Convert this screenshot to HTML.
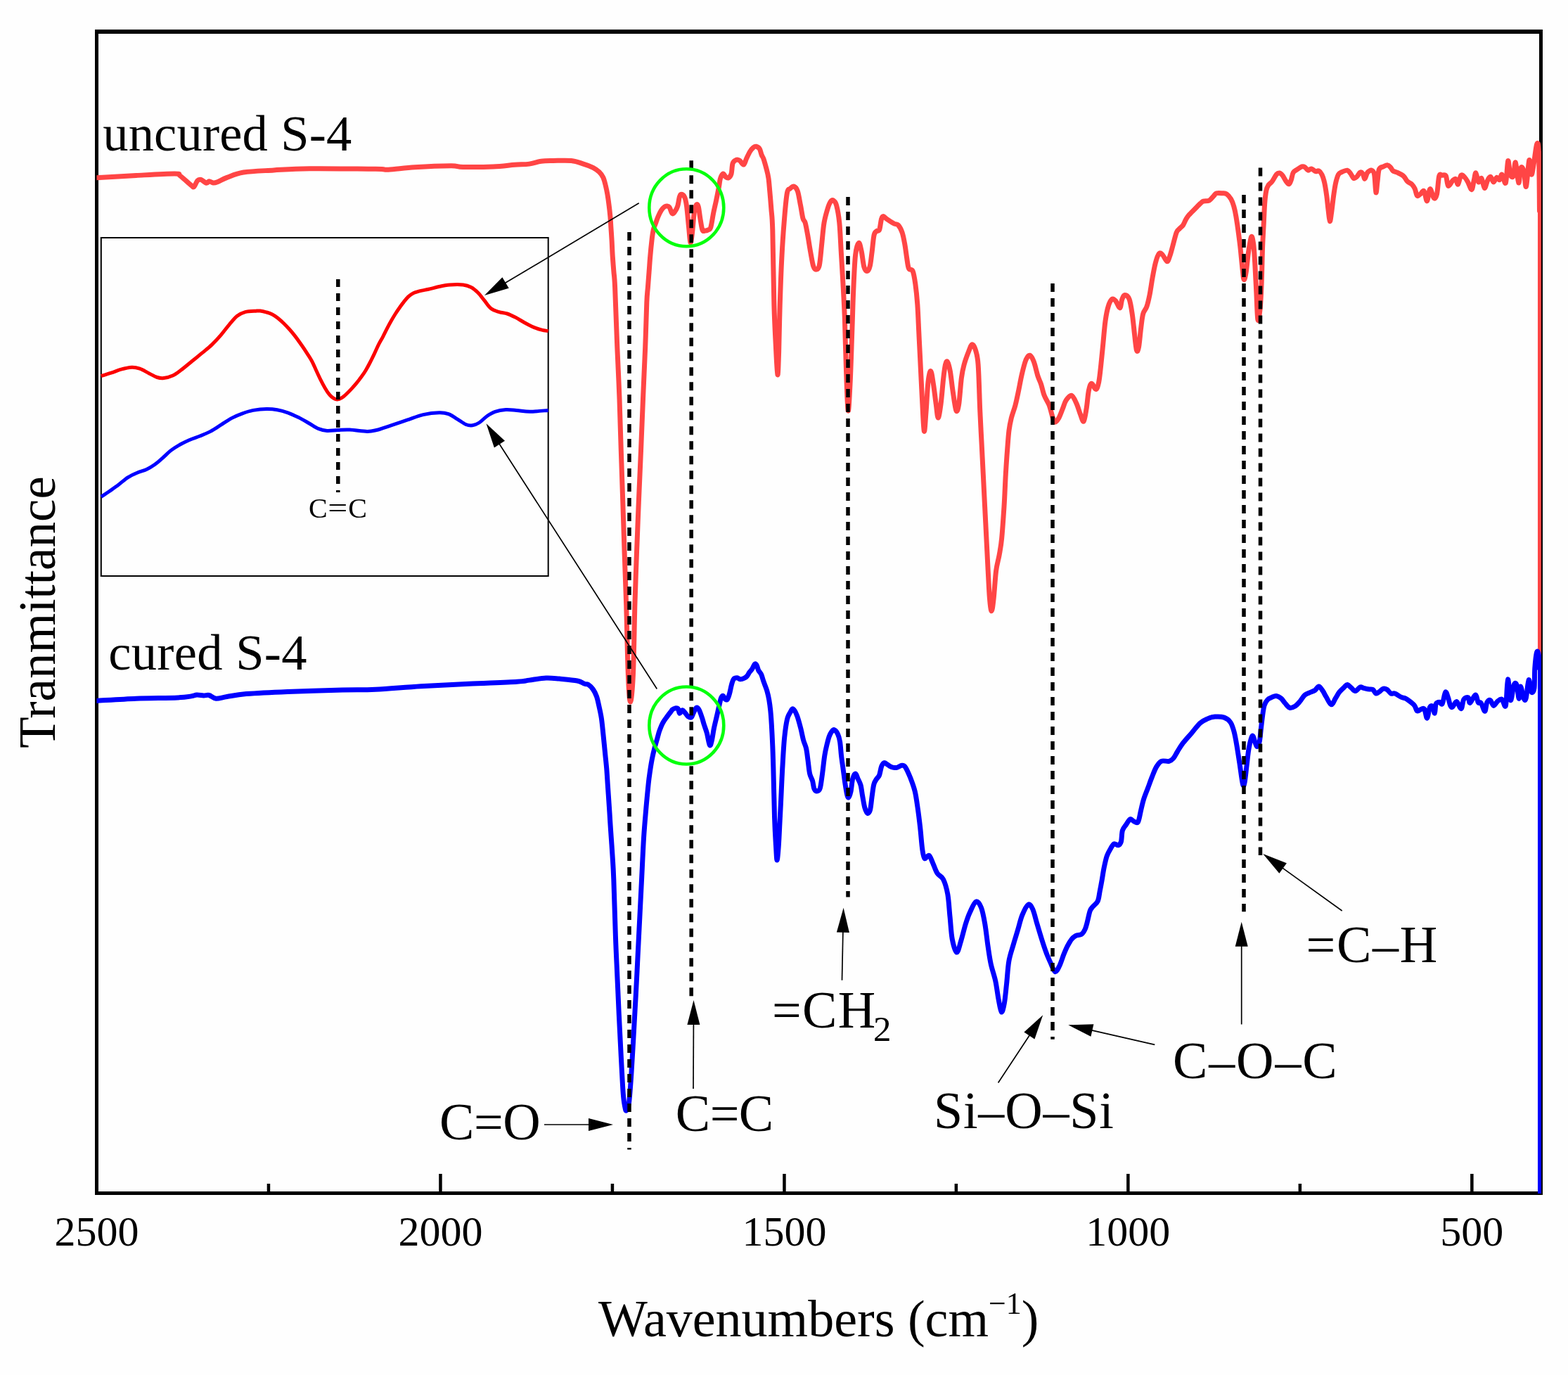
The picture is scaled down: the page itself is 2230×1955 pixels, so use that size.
<!DOCTYPE html>
<html><head><meta charset="utf-8"><title>FTIR spectra</title>
<style>
html,body{margin:0;padding:0;background:#fefefe;overflow:hidden;}
svg{display:block;}
text{font-family:"Liberation Serif","Times New Roman",serif;fill:#000;}
</style></head><body>
<svg width="2230" height="1955" viewBox="0 0 2230 1955">
<rect x="0" y="0" width="2230" height="1955" fill="#fefefe"/>

<rect x="135" y="42" width="2059" height="6" fill="#000"/>
<rect x="135" y="1694" width="2059" height="5" fill="#000"/>
<rect x="135" y="42" width="5" height="1657" fill="#000"/>
<rect x="2189" y="42" width="5" height="1657" fill="#000"/>
<rect x="624.2" y="1669" width="4.5" height="27" fill="#000"/><rect x="1113.2" y="1669" width="4.5" height="27" fill="#000"/><rect x="1602.1" y="1669" width="4.5" height="27" fill="#000"/><rect x="2091.1" y="1669" width="4.5" height="27" fill="#000"/><rect x="379.7" y="1683" width="4.5" height="13" fill="#000"/><rect x="868.7" y="1683" width="4.5" height="13" fill="#000"/><rect x="1357.6" y="1683" width="4.5" height="13" fill="#000"/><rect x="1846.6" y="1683" width="4.5" height="13" fill="#000"/>
<text x="137.5" y="1771" font-size="60" text-anchor="middle">2500</text>
<text x="626.5" y="1771" font-size="60" text-anchor="middle">2000</text>
<text x="1115.4" y="1771" font-size="60" text-anchor="middle">1500</text>
<text x="1604.3" y="1771" font-size="60" text-anchor="middle">1000</text>
<text x="2093.3" y="1771" font-size="60" text-anchor="middle">500</text>
<text x="851" y="1899.6" font-size="74">Wavenumbers (cm<tspan font-size="44" dy="-32">−1</tspan><tspan dy="32">)</tspan></text>
<text transform="translate(78,870.5) rotate(-90)" font-size="73" text-anchor="middle">Tranmittance</text>
<text x="146.3" y="214" font-size="72.5" textLength="354" lengthAdjust="spacing">uncured S-4</text>
<text x="154.3" y="951.8" font-size="72.5" textLength="282.2" lengthAdjust="spacing">cured S-4</text>
<defs><clipPath id="pc"><rect x="137.5" y="40" width="2054.5" height="1657"/></clipPath></defs><g clip-path="url(#pc)">
<path d="M137,252.8 C146.4,252.2 175.1,250.5 193.7,249.5 C212.3,248.5 238.1,246.9 248.5,247 C258.9,247.1 252.4,247.2 256.3,250 C260.2,252.8 268.7,261 272,263.6 C275.3,266.2 274.4,266.7 275.9,265.6 C277.4,264.5 279.2,258.5 280.8,256.8 C282.4,255.1 283.6,254.8 285.7,255.4 C287.8,256 291.6,259.9 293.5,260.3 C295.4,260.7 295.8,257.8 297.4,257.7 C299,257.6 301.3,259.8 303.3,260 C305.3,260.2 305.9,260 309.2,258.7 C312.5,257.4 316.7,254.7 322.9,252.4 C329.1,250.1 335.3,246.7 346.4,245 C357.5,243.3 373.8,242.9 389.4,242 C405,241.1 416.2,240 440.3,239.7 C464.4,239.4 515.5,240.1 534.2,240.3 C552.9,240.6 543,241.6 552.3,241.2 C561.6,240.8 575.2,238.6 590,237.7 C604.8,236.8 629.9,235.8 641.3,235.7 C652.7,235.6 648.4,237.2 658.4,237.4 C668.4,237.6 688.9,237.5 701.2,237 C713.5,236.5 723.4,235 732,234.3 C740.6,233.7 746.3,233.9 752.6,233.1 C758.9,232.2 764,230 769.7,229.2 C775.4,228.4 779.7,228.6 786.8,228.5 C793.9,228.4 805.4,227.7 812.5,228.5 C819.6,229.3 824.6,231.5 829.7,233.1 C834.9,234.7 839.6,236.4 843.4,238.3 C847.1,240.2 849.8,242.2 852.2,244.5 C854.6,246.8 856.3,249.1 857.8,252.3 C859.3,255.5 860.2,259.4 861.2,263.5 C862.2,267.6 863.2,272.1 864,276.9 C864.8,281.7 865.6,287.3 866.2,292.5 C866.9,297.7 867.4,302.7 867.9,308.1 C868.4,313.5 868.6,319.3 869,324.9 C869.4,330.5 869.7,335.1 870.1,341.6 C870.5,348.1 870.7,356.5 871.2,363.9 C871.7,371.3 872.3,378.8 872.9,386.2 C873.5,393.6 873.8,390.7 874.6,408.6 C875.4,426.5 876.7,467.2 877.8,493.6 C878.9,520 880.1,542.7 881,567.2 C881.9,591.8 882.5,616.4 883.3,640.9 C884.1,665.4 885,690 885.8,714.5 C886.6,739 887.4,763.9 888.2,788.1 C889,812.3 889.8,831.1 890.7,859.8 C891.6,888.4 892.4,937 893.4,960 C894.4,983 895.3,998 896.5,998 C897.7,998 899.3,983 900.4,960 C901.5,937 902.1,888.4 902.9,859.8 C903.7,831.1 904.5,812.3 905.4,788.1 C906.3,763.9 907.3,739 908.3,714.5 C909.3,690 910.5,665.4 911.5,640.9 C912.5,616.4 913.5,591.8 914.5,567.2 C915.5,542.7 916.8,516.5 917.7,493.6 C918.6,470.7 919.2,444.2 919.8,430 C920.4,415.8 920.8,415.9 921.4,408.6 C922,401.3 922.5,393.6 923.1,386.2 C923.7,378.8 924.1,371.3 924.8,363.9 C925.4,356.5 926.3,347.7 927,341.6 C927.7,335.5 928.3,331.2 929.2,327.1 C930.1,323 931.5,320.3 932.6,317.1 C933.7,313.9 934.6,311.1 935.9,308.1 C937.2,305.1 938.9,301.6 940.4,299.2 C941.9,296.8 943.6,295 945,294 C946.4,293 947.3,292.9 948.5,293 C949.7,293.1 950.9,293 952.1,294.8 C953.4,296.6 954.7,302.6 956,303.6 C957.3,304.6 958.6,302.5 959.9,300.7 C961.2,298.9 962.7,296.2 963.8,292.8 C964.9,289.4 965.5,282.9 966.3,280.1 C967.1,277.3 967.5,276.2 968.7,276.2 C969.9,276.2 972.3,277.3 973.6,280.1 C974.9,282.9 975.5,285.8 976.5,292.8 C977.5,299.8 978.6,313.6 979.5,322.2 C980.4,330.8 981.1,343.1 981.9,344.7 C982.7,346.3 983.5,339 984.4,332 C985.3,325 986.3,309.4 987.3,302.6 C988.3,295.8 989.2,292.9 990.2,291.4 C991.2,289.9 992.2,290.3 993.2,293.8 C994.2,297.3 995.1,306.8 996.1,312.4 C997.1,317.9 997.9,324.5 999,327.1 C1000.1,329.7 1001.7,328.1 1003,328.1 C1004.3,328.1 1005.6,327.9 1006.9,327.1 C1008.2,326.3 1009.5,327.3 1010.8,323.2 C1012.1,319.1 1013.4,309 1014.7,302.6 C1016,296.2 1017.3,291.2 1018.6,285 C1019.9,278.8 1021.5,270.6 1022.5,265.4 C1023.5,260.2 1023.5,256.8 1024.5,253.7 C1025.5,250.6 1027.1,247.2 1028.4,246.9 C1029.7,246.6 1031,250.8 1032.3,251.8 C1033.6,252.8 1034.9,253.5 1036.2,252.7 C1037.5,251.9 1039.1,250.3 1040.1,246.9 C1041.1,243.5 1040.9,235.5 1042.1,232.2 C1043.2,228.9 1045.4,228 1047,227.3 C1048.6,226.7 1050.1,227.2 1051.9,228.3 C1053.7,229.4 1056.1,234.6 1057.7,234.1 C1059.3,233.6 1060.2,228.4 1061.7,225.3 C1063.2,222.2 1065,218.1 1066.6,215.5 C1068.2,212.9 1069.9,210.9 1071.4,209.7 C1072.9,208.5 1073.9,207.9 1075.4,208.2 C1076.9,208.5 1079,209.6 1080.3,211.6 C1081.6,213.6 1082.2,217.9 1083.2,220.4 C1084.2,222.9 1085,223 1086.1,226.3 C1087.2,229.6 1088.8,235.4 1090,240 C1091.2,244.6 1092.2,248.1 1093,253.7 C1093.8,259.2 1094.2,266 1094.9,273.3 C1095.6,280.6 1096.2,288.7 1096.9,297.7 C1097.6,306.7 1098.1,304.4 1098.8,327.1 C1099.5,349.8 1100.1,406.5 1100.9,434.1 C1101.7,461.7 1102.6,476.2 1103.4,492.7 C1104.2,509.1 1105.2,531.4 1105.9,532.8 C1106.6,534.2 1107,517.5 1107.6,501 C1108.1,484.6 1108.5,456.4 1109.2,434.1 C1109.9,411.8 1110.8,386.7 1111.8,367.2 C1112.8,347.7 1113.8,332.4 1115.1,317 C1116.3,301.6 1117.9,283.2 1119.3,275.1 C1120.7,267 1121.8,270.1 1123.5,268.4 C1125.2,266.7 1127.5,264.5 1129.3,265.1 C1131.1,265.7 1132.9,267.4 1134.4,271.8 C1135.9,276.2 1137.2,285.4 1138.5,291.8 C1139.8,298.2 1140.8,306.1 1141.9,310.3 C1143,314.5 1144.1,313 1145.2,316.9 C1146.3,320.8 1147.3,326.7 1148.6,333.7 C1149.9,340.7 1151.4,351.3 1152.8,358.8 C1154.2,366.3 1155.5,374.8 1156.9,378.9 C1158.3,382.9 1159.7,383.4 1161.1,383.1 C1162.5,382.8 1164,383.2 1165.3,377.2 C1166.6,371.2 1167.6,357.2 1168.7,347.1 C1169.8,337.1 1170.6,325.3 1172,316.9 C1173.4,308.5 1175.5,301.9 1177,296.9 C1178.5,291.9 1179.8,288.8 1181.2,286.8 C1182.6,284.8 1184,284.3 1185.4,285.1 C1186.8,285.9 1188.2,286.5 1189.6,291.8 C1191,297.1 1192.7,305.7 1193.8,316.9 C1194.9,328.1 1195.5,344.9 1196.3,358.8 C1197.1,372.8 1198,385.3 1198.8,400.6 C1199.6,415.9 1200.5,430.9 1201.3,450.8 C1202,470.7 1202.5,497.9 1203.3,520 C1204.1,542.1 1205.1,579.2 1206.1,583.6 C1207,588 1208,565.4 1209,546.6 C1210,527.8 1211,492.8 1211.8,470.7 C1212.6,448.6 1212.9,431.8 1213.7,413.8 C1214.5,395.8 1215.3,374 1216.6,362.6 C1217.9,351.2 1219.9,346.4 1221.3,345.5 C1222.7,344.6 1223.8,351.2 1225.1,356.9 C1226.4,362.6 1227.5,374.9 1228.9,379.7 C1230.3,384.4 1232.2,385.7 1233.6,385.4 C1235,385.1 1236.3,382.6 1237.4,377.8 C1238.5,373.1 1239.3,364.2 1240.3,356.9 C1241.2,349.6 1242,338.8 1243.1,334.1 C1244.2,329.4 1245.6,329.8 1246.9,328.5 C1248.2,327.2 1249.6,329.5 1250.7,326.6 C1251.8,323.8 1252.6,314.6 1253.6,311.4 C1254.5,308.2 1255.2,307.6 1256.4,307.6 C1257.7,307.6 1258.6,309.7 1261.1,311.4 C1263.6,313.1 1268.9,316.6 1271.6,318 C1274.3,319.4 1275.4,317.8 1277.3,319.9 C1279.2,322 1281.4,325.8 1283,330.4 C1284.6,335 1285.7,341.4 1286.8,347.4 C1287.9,353.4 1288.7,360.7 1289.6,366.4 C1290.5,372.1 1291,378.4 1292.4,381.6 C1293.8,384.8 1296.5,381.6 1298.1,385.4 C1299.7,389.2 1300.8,396.4 1301.9,404.3 C1303,412.2 1304,421.7 1304.8,432.8 C1305.6,443.9 1306.1,458.1 1306.7,470.7 C1307.3,483.3 1307.8,492.9 1308.6,508.7 C1309.4,524.5 1310.5,548.2 1311.4,565.6 C1312.4,583 1313.3,609.8 1314.3,613 C1315.2,616.2 1316.1,596.3 1317.1,584.6 C1318,572.9 1318.9,552.3 1320,542.8 C1321.1,533.3 1322.5,527.1 1323.7,527.7 C1325,528.3 1326.2,538.7 1327.5,546.6 C1328.8,554.5 1330.2,567.2 1331.3,575.1 C1332.4,583 1333.1,594.1 1334.2,594.1 C1335.3,594.1 1336.7,584.6 1338,575.1 C1339.3,565.6 1340.7,546.7 1341.8,537.2 C1342.9,527.7 1343.6,522 1344.6,518.2 C1345.5,514.4 1346.4,512.8 1347.5,514.4 C1348.6,516 1350,520.8 1351.3,527.7 C1352.6,534.7 1353.7,546.8 1355.1,556.1 C1356.5,565.4 1358.4,580.4 1359.8,583.6 C1361.2,586.8 1362.3,582.8 1363.6,575.1 C1364.9,567.4 1366.1,546.7 1367.4,537.2 C1368.7,527.7 1369.5,524.5 1371.2,518.2 C1372.9,511.9 1375.9,503.9 1377.8,499.2 C1379.7,494.4 1381,490 1382.6,489.7 C1384.2,489.4 1385.9,492.6 1387.3,497.3 C1388.7,502.1 1390,503.9 1391.1,518.2 C1392.2,532.5 1392.9,564.5 1393.7,582.9 C1394.5,601.3 1395.2,613.5 1396,628.7 C1396.8,644 1397.5,659.1 1398.3,674.4 C1399.1,689.6 1399.8,705 1400.6,720.2 C1401.4,735.5 1402.1,750.6 1402.9,765.9 C1403.7,781.1 1404.5,797.6 1405.2,811.7 C1406,825.8 1406.6,841 1407.4,850.5 C1408.2,860 1409.2,868.8 1410.2,868.8 C1411.2,868.8 1412.1,860 1413.2,850.5 C1414.3,841 1415.3,822 1416.6,811.7 C1417.9,801.4 1419.9,796.4 1421.2,788.8 C1422.5,781.2 1423.5,777.3 1424.6,765.9 C1425.7,754.5 1427,735.5 1428,720.2 C1429,705 1429.5,687.8 1430.3,674.4 C1431.1,661 1431.8,650.4 1432.6,640.1 C1433.4,629.8 1434,620.3 1434.9,612.7 C1435.9,605.1 1436.8,600.5 1438.3,594.4 C1439.8,588.3 1442.3,582.6 1444,576.1 C1445.7,569.6 1447.1,562.8 1448.6,555.5 C1450.1,548.2 1451.5,539.9 1453.2,532.6 C1454.9,525.4 1457,516.6 1458.9,512 C1460.8,507.4 1462.7,504.8 1464.6,505.2 C1466.5,505.6 1468.4,509.3 1470.3,514.3 C1472.2,519.2 1474.4,529.6 1476.1,534.9 C1477.8,540.2 1479.1,541.7 1480.6,546.3 C1482.1,550.9 1483.3,557.3 1485.2,562.3 C1487.1,567.3 1490.2,571.1 1492.1,576.1 C1494,581.1 1495.4,588.1 1496.7,592.1 C1498,596.1 1498.6,599.7 1500.1,600.1 C1501.6,600.5 1503.9,597.6 1505.8,594.4 C1507.7,591.1 1509.8,584.8 1511.5,580.6 C1513.2,576.4 1514,572.2 1516.1,569.2 C1518.2,566.2 1521.6,561.5 1524.1,562.3 C1526.6,563.1 1528.9,569.2 1531,573.8 C1533.1,578.4 1535,585.6 1536.7,589.8 C1538.4,594 1539.9,600.5 1541.3,598.9 C1542.7,597.3 1544,587.6 1545.2,580.4 C1546.4,573.2 1547.1,561.6 1548.3,555.7 C1549.5,549.9 1550.7,545.6 1552.4,545.3 C1554.1,544.9 1556.9,553.9 1558.6,553.6 C1560.3,553.3 1561.5,549.1 1562.7,543.3 C1563.9,537.4 1564.8,527.8 1565.8,518.5 C1566.8,509.2 1567.9,497.8 1568.9,487.5 C1569.9,477.2 1570.8,465.1 1572,456.5 C1573.2,447.9 1574.5,441.1 1576.1,435.9 C1577.6,430.7 1579.6,426.9 1581.3,425.5 C1583,424.1 1584.6,425.5 1586.5,427.6 C1588.4,429.7 1591.2,438.2 1592.7,437.9 C1594.2,437.5 1594.6,428.6 1595.8,425.5 C1597,422.4 1598.2,419.4 1599.9,419.4 C1601.6,419.4 1604.4,421 1606.1,425.5 C1607.8,430 1609,438.3 1610.2,446.2 C1611.4,454.1 1612.3,464.4 1613.3,473 C1614.3,481.6 1615.4,494.4 1616.4,497.8 C1617.4,501.2 1618.5,498.9 1619.5,493.7 C1620.5,488.5 1621.6,474.8 1622.6,466.9 C1623.6,459 1624.3,451.4 1625.7,446.2 C1627.1,441 1629.4,440.4 1630.9,435.9 C1632.5,431.4 1633.6,426.3 1635,419.4 C1636.4,412.5 1637.7,402.2 1639.1,394.6 C1640.5,387 1641.8,379.6 1643.3,373.9 C1644.8,368.2 1646.7,362.4 1648.4,360.5 C1650.1,358.6 1651.7,360.7 1653.6,362.6 C1655.5,364.5 1658.1,371.6 1659.8,371.8 C1661.5,372 1662.5,367.4 1663.9,363.6 C1665.3,359.8 1666.5,354.6 1668,349.1 C1669.5,343.6 1671.7,334.4 1673.2,330.5 C1674.8,326.6 1675.8,327.1 1677.3,325.4 C1678.8,323.7 1681,322.4 1682.5,320.2 C1684,318 1685.2,314.4 1686.6,312 C1688,309.6 1688.7,308.2 1690.8,305.8 C1692.9,303.4 1696.2,300.3 1699,297.5 C1701.8,294.7 1705.2,291.1 1707.3,289.2 C1709.4,287.3 1709.3,286.8 1711.4,286.1 C1713.5,285.4 1717.3,286.3 1719.7,285.1 C1722.1,283.9 1724.2,280.6 1725.9,278.9 C1727.6,277.2 1727.9,275.5 1730,274.8 C1732.1,274.1 1735.9,274.6 1738.3,274.8 C1740.7,275 1742.4,274.4 1744.5,275.8 C1746.6,277.2 1749,280.1 1750.7,283 C1752.4,285.9 1753.6,289.3 1754.8,293.4 C1756,297.5 1756.9,301.9 1757.9,307.8 C1758.9,313.7 1760,320.9 1761,328.5 C1762,336.1 1763.1,344 1764.1,353.3 C1765.1,362.6 1766.3,376.8 1767.2,384.2 C1768.1,391.6 1768.4,397.3 1769.2,397.7 C1770,398.1 1771.3,392.7 1772.3,386.3 C1773.3,379.9 1774.2,367.8 1775.4,359.5 C1776.6,351.2 1778.4,338.8 1779.6,336.7 C1780.8,334.6 1781.8,340.9 1782.7,347.1 C1783.6,353.3 1784,362.5 1784.7,373.9 C1785.4,385.2 1786.1,401.8 1786.8,415.2 C1787.5,428.6 1788,450.4 1788.9,454.5 C1789.8,458.6 1791.1,448.5 1792,440 C1792.9,431.5 1793.5,418.3 1794.1,403.4 C1794.7,388.5 1795.1,364.5 1795.6,350.7 C1796.1,336.9 1796.6,330.7 1797.1,320.6 C1797.6,310.6 1798,298.7 1798.6,290.4 C1799.2,282.1 1800,275.3 1800.9,270.8 C1801.8,266.3 1802.5,265.4 1803.9,263.3 C1805.3,261.2 1807.3,260.5 1809.2,258 C1811.1,255.5 1813.5,250.2 1815.2,248.2 C1817,246.2 1818.2,245.8 1819.7,246 C1821.2,246.2 1822.7,247.8 1824.2,249.7 C1825.7,251.6 1827.3,255.3 1828.8,257.3 C1830.3,259.3 1832,262.1 1833.3,261.8 C1834.5,261.6 1835.3,258.6 1836.3,255.8 C1837.3,253 1837.8,247.7 1839.3,245.2 C1840.8,242.7 1843.3,242.1 1845.3,240.7 C1847.3,239.3 1849.6,237.4 1851.4,236.9 C1853.2,236.4 1854.4,236.8 1855.9,237.7 C1857.4,238.6 1858.9,241.8 1860.4,242.2 C1861.9,242.6 1863.1,239.7 1864.9,239.9 C1866.7,240.2 1869.2,243.2 1871,243.7 C1872.8,244.2 1874,242.2 1875.5,242.9 C1877,243.7 1878.6,245.3 1880,248.2 C1881.4,251.1 1882.7,255.3 1883.8,260.3 C1884.9,265.3 1885.9,272.1 1886.8,278.4 C1887.7,284.7 1888.2,292 1889,298 C1889.8,304 1890.5,313.8 1891.3,314.5 C1892.1,315.2 1892.7,308.5 1893.6,302.5 C1894.5,296.5 1895.6,285.4 1896.6,278.4 C1897.6,271.4 1898.5,265.3 1899.6,260.3 C1900.7,255.3 1901.9,250.8 1903.4,248.2 C1904.9,245.6 1906.5,245.5 1908.6,244.5 C1910.7,243.5 1914.2,241.8 1916.2,242.2 C1918.2,242.6 1919.2,244.8 1920.7,246.7 C1922.2,248.6 1923.7,252.8 1925.2,253.5 C1926.7,254.2 1928.2,252.6 1929.7,251.2 C1931.2,249.8 1932.9,245.9 1934.3,245.2 C1935.7,244.4 1936.9,245.2 1938,246.7 C1939.1,248.2 1940,254.4 1941.1,254.2 C1942.2,253.9 1943.2,247.2 1944.8,245.2 C1946.4,243.2 1949.2,241.7 1950.8,242.2 C1952.4,242.7 1953.6,242.9 1954.6,248.2 C1955.6,253.5 1956.2,272.3 1956.9,273.8 C1957.7,275.3 1958.3,262.8 1959.1,257.3 C1959.8,251.8 1960,244.1 1961.4,240.7 C1962.8,237.3 1965.4,237.9 1967.4,236.9 C1969.4,235.9 1971.6,234.4 1973.4,234.7 C1975.2,234.9 1976.7,237 1978,238.4 C1979.3,239.8 1979.5,241.8 1981,242.9 C1982.5,244 1984.5,244 1987,245.2 C1989.5,246.4 1993.7,248.2 1996.1,250.3 C1998.5,252.4 1999.5,255.8 2001.5,257.8 C2003.5,259.8 2006.2,260.3 2008,262.1 C2009.8,263.9 2011,265.9 2012.3,268.6 C2013.5,271.3 2014.2,277.1 2015.5,278.3 C2016.8,279.6 2018.2,277.2 2019.8,276.1 C2021.4,275 2023.6,270.2 2025.2,271.8 C2026.8,273.4 2028.1,286.3 2029.5,285.8 C2030.9,285.3 2032.2,269.3 2033.8,268.6 C2035.4,267.9 2037.6,280.2 2039.2,281.5 C2040.8,282.8 2042.2,281.3 2043.5,276.1 C2044.8,270.9 2045.5,254.8 2046.7,250.3 C2048,245.8 2049.4,249.2 2051,249.2 C2052.6,249.2 2055,247.8 2056.4,250.3 C2057.8,252.8 2058,263.2 2059.6,264.3 C2061.2,265.4 2064.3,258.3 2066.1,256.7 C2067.9,255.1 2069.2,253.7 2070.4,254.6 C2071.7,255.5 2072.3,263 2073.6,262.1 C2074.8,261.2 2076.3,250.8 2077.9,249.2 C2079.5,247.6 2081.7,250.8 2083.3,252.4 C2084.9,254 2086,256 2087.6,258.9 C2089.2,261.8 2091.6,270 2093,269.6 C2094.4,269.2 2095.2,260.6 2096.2,256.7 C2097.2,252.8 2097.8,245.5 2098.9,245.9 C2100,246.3 2101.3,257.6 2102.7,258.9 C2104,260.2 2105.6,252.1 2107,253.5 C2108.4,254.9 2109.9,267 2111.3,267.5 C2112.7,268 2114.2,259.4 2115.6,256.7 C2117,254 2118.5,250.9 2119.9,251.3 C2121.3,251.7 2122.8,258.7 2124.2,258.9 C2125.6,259.1 2127.1,252.9 2128.5,252.4 C2129.9,251.9 2131.5,256.4 2132.8,255.7 C2134.1,255 2134.7,247.4 2136.1,248.1 C2137.5,248.8 2140,263.2 2141.4,260 C2142.8,256.8 2143.6,230.7 2144.7,228.7 C2145.8,226.7 2146.7,244.5 2147.9,248.1 C2149.2,251.7 2150.9,253.2 2152.2,250.3 C2153.4,247.4 2154.2,229.3 2155.4,230.9 C2156.7,232.5 2158.4,258.8 2159.7,260 C2161,261.2 2161.7,241.1 2163,238.4 C2164.3,235.7 2166.1,239.3 2167.3,243.8 C2168.6,248.3 2169.2,268 2170.5,265.3 C2171.8,262.6 2173.6,230.6 2174.8,227.7 C2176.1,224.8 2176.9,247.2 2178,248.1 C2179.1,249 2180,240.2 2181.3,233 C2182.6,225.8 2184.4,207.8 2185.6,205.1 C2186.8,202.4 2187.8,201.1 2188.4,216.9 C2189.1,232.7 2189.3,286.1 2189.5,300" fill="none" stroke="#ff4545" stroke-width="7" stroke-linejoin="round" stroke-linecap="round"/>
<rect x="2187" y="215" width="5" height="1400" fill="#ff4545"/>
<path d="M137,996.4 C146.4,995.9 174.5,994 193.7,993.2 C212.9,992.5 239.3,992.5 252.4,991.9 C265.4,991.3 267.4,990.5 272,989.9 C276.6,989.2 276.9,988.2 279.8,988 C282.7,987.8 286.7,988.8 289.6,988.9 C292.5,989 294.5,987.8 297.4,988.5 C300.3,989.2 302.9,992.9 307.2,993.2 C311.4,993.5 315.7,991.6 322.9,990.5 C330.1,989.4 335.9,987.8 350.3,986.6 C364.7,985.4 386.2,984.3 409,983.4 C431.8,982.5 466.4,981.6 487.3,981.1 C508.2,980.6 515.7,981.2 534.2,980.3 C552.7,979.4 576.4,977 598.5,975.7 C620.6,974.4 644.2,973.4 667,972.3 C689.8,971.2 721.2,970.1 735.5,969.2 C749.8,968.3 745.8,968 752.6,967.1 C759.5,966.2 769.5,964.3 776.6,964 C783.7,963.7 788,964.4 795.4,965.1 C802.8,965.8 815.1,966.8 821.1,968 C827.1,969.2 828.8,971.4 831.4,972.3 C834,973.2 834.7,972.1 836.7,973.4 C838.7,974.7 841.4,977.3 843.4,980.1 C845.4,982.9 847.1,986.3 848.5,990.2 C849.9,994.1 850.7,998.6 851.8,1003.6 C852.9,1008.6 854.2,1013.9 855.2,1020.3 C856.2,1026.7 856.9,1034.3 857.7,1042.1 C858.5,1049.9 859.4,1058.8 860.2,1067.2 C861,1075.6 862,1084 862.7,1092.4 C863.4,1100.8 863.8,1109.1 864.4,1117.5 C865,1125.9 865.5,1134.2 866.1,1142.6 C866.7,1151 867.2,1159.3 867.7,1167.7 C868.2,1176.1 868.8,1184.4 869.4,1192.8 C870,1201.2 870.5,1208.5 871.1,1218 C871.7,1227.5 872.1,1231.3 872.8,1250.1 C873.5,1268.9 874.6,1308.2 875.4,1331 C876.2,1353.8 877,1368.1 877.8,1386.7 C878.6,1405.3 879.4,1423.9 880.3,1442.5 C881.2,1461.1 882.1,1479.7 883.1,1498.3 C884.1,1516.9 885.3,1541.6 886.2,1554.1 C887.1,1566.5 887.8,1568.8 888.6,1573 C889.4,1577.2 889.8,1579.8 890.8,1579 C891.8,1578.2 893.3,1576.8 894.5,1568 C895.7,1559.2 896.8,1542.5 897.9,1526.2 C899,1509.9 900.1,1489 901.2,1470.4 C902.3,1451.8 903.3,1433.2 904.3,1414.6 C905.3,1396 906.2,1377.5 907.1,1358.9 C908,1340.3 909,1321.7 909.9,1303.1 C910.8,1284.5 911.8,1265.9 912.7,1247.3 C913.6,1228.7 914.5,1207.8 915.5,1191.5 C916.5,1175.2 917.7,1162.6 918.8,1149.7 C919.9,1136.8 921.3,1122.8 922.2,1114 C923.1,1105.2 923.7,1101.9 924.4,1097 C925.1,1092.1 925.6,1088.8 926.3,1084.8 C927,1080.8 927.7,1077.2 928.6,1073.2 C929.5,1069.2 930.7,1064.6 931.7,1060.7 C932.7,1056.8 933.8,1053.4 934.8,1050 C935.8,1046.6 936.5,1043.2 937.5,1040.2 C938.5,1037.2 939.6,1034.5 940.6,1032.1 C941.6,1029.7 942.5,1028 943.8,1025.9 C945.1,1023.8 946.6,1021.8 948.2,1019.6 C949.8,1017.4 952.2,1014.3 953.6,1012.5 C955,1010.7 955.3,1009.8 956.3,1008.9 C957.3,1008 958.5,1007.3 959.8,1007.1 C961.1,1006.9 963.2,1006.4 964.3,1007.6 C965.4,1008.8 965.5,1013.9 966.5,1014.3 C967.5,1014.7 969.1,1009.8 970.5,1009.8 C971.9,1009.8 973.6,1012.8 975,1014.3 C976.4,1015.8 977.2,1017.9 978.6,1018.8 C980,1019.7 982,1020.8 983.3,1019.9 C984.6,1019 985.1,1015.7 986.3,1013.4 C987.5,1011.1 989,1007 990.3,1006.3 C991.6,1005.6 992.9,1007 994.3,1009.4 C995.6,1011.8 997.2,1016.9 998.4,1020.4 C999.6,1023.9 1000.2,1026.8 1001.4,1030.5 C1002.6,1034.2 1004.1,1037.7 1005.4,1042.5 C1006.7,1047.3 1008.2,1057.9 1009.4,1059.6 C1010.6,1061.3 1011.4,1056.6 1012.4,1052.6 C1013.4,1048.6 1014.2,1041.2 1015.4,1035.5 C1016.6,1029.8 1018,1024.3 1019.4,1018.4 C1020.8,1012.5 1022.5,1004.6 1023.5,1000.3 C1024.5,995.9 1024.7,994.1 1025.5,992.3 C1026.3,990.5 1027.5,989 1028.5,989.3 C1029.5,989.6 1030.5,993.5 1031.5,994.3 C1032.5,995.1 1033.5,995.6 1034.5,994.3 C1035.5,993 1036.5,989.8 1037.5,986.3 C1038.5,982.8 1039.5,976.7 1040.5,973.2 C1041.5,969.7 1042.2,966.8 1043.6,965.2 C1044.9,963.6 1047.1,963.6 1048.6,963.7 C1050.1,963.8 1050.9,965.6 1052.6,965.7 C1054.3,965.8 1056.9,965 1058.6,964.2 C1060.3,963.4 1061.4,962.5 1062.6,961.1 C1063.8,959.8 1064.5,957.8 1065.7,956.1 C1066.9,954.4 1068.4,953.1 1069.7,951.1 C1071,949.1 1072.5,944.8 1073.7,944.1 C1074.9,943.4 1075.9,945.6 1076.7,947.1 C1077.5,948.6 1077.7,951.1 1078.7,953.1 C1079.7,955.1 1081.5,956.6 1082.7,959.1 C1083.9,961.6 1084.4,964.4 1085.7,968.2 C1087,972.1 1089.5,977.7 1090.8,982.2 C1092.1,986.7 1093,990.6 1093.8,995.3 C1094.6,1000 1095.2,1004.5 1095.8,1010.4 C1096.4,1016.3 1096.8,1022.1 1097.3,1030.5 C1097.8,1038.9 1098.4,1050.6 1098.8,1060.6 C1099.2,1070.6 1099.3,1073.5 1099.8,1090.7 C1100.3,1107.9 1101,1145.3 1101.6,1164 C1102.2,1182.7 1102.9,1192.8 1103.5,1202.6 C1104.1,1212.4 1104.5,1223.1 1105.1,1223.1 C1105.7,1223.1 1106.6,1212.4 1107.3,1202.6 C1108,1192.8 1108.6,1176.8 1109.3,1164 C1110,1151.2 1110.6,1138.3 1111.2,1125.5 C1111.8,1112.7 1112.3,1099.8 1113.1,1087 C1113.8,1074.2 1114.6,1059.2 1115.7,1048.5 C1116.8,1037.8 1118.1,1028.8 1119.5,1022.8 C1120.9,1016.8 1122.6,1015.1 1124,1012.6 C1125.4,1010.1 1126.4,1007.1 1128,1008 C1129.6,1008.9 1131.8,1013.1 1133.6,1017.7 C1135.4,1022.3 1137.3,1029.9 1138.8,1035.7 C1140.3,1041.5 1141.3,1047.7 1142.6,1052.4 C1143.9,1057.1 1145.4,1059.2 1146.5,1063.9 C1147.6,1068.6 1148.2,1074.6 1149,1080.6 C1149.8,1086.6 1150.5,1095 1151.6,1099.9 C1152.7,1104.8 1154.4,1106.5 1155.5,1110.1 C1156.6,1113.7 1156.8,1119.2 1158,1121.7 C1159.2,1124.2 1161.1,1125.1 1162.5,1124.9 C1163.9,1124.7 1165.2,1124.6 1166.4,1120.4 C1167.6,1116.2 1168.5,1107.6 1169.6,1099.9 C1170.7,1092.2 1171.7,1081.1 1172.8,1074.2 C1173.9,1067.3 1174.9,1063.3 1176,1058.8 C1177.1,1054.3 1178.1,1050.2 1179.2,1047.2 C1180.3,1044.2 1181.2,1042.4 1182.4,1040.8 C1183.6,1039.2 1184.8,1037.2 1186.3,1037.6 C1187.8,1038 1190,1040.5 1191.4,1043.4 C1192.8,1046.3 1193.8,1049.8 1194.6,1054.9 C1195.4,1060 1195.8,1067.8 1196.5,1074.2 C1197.2,1080.6 1198.2,1087 1199.1,1093.4 C1200,1099.8 1200.8,1106.9 1201.7,1112.7 C1202.6,1118.5 1203.5,1124.6 1204.3,1128.1 C1205.1,1131.6 1205.8,1134.3 1206.8,1133.9 C1207.8,1133.5 1209,1129.9 1210,1125.5 C1211,1121.1 1211.5,1111.9 1212.6,1107.6 C1213.7,1103.3 1215.1,1099.9 1216.4,1099.9 C1217.7,1099.9 1219,1104.8 1220.3,1107.6 C1221.6,1110.4 1223,1112.4 1224.1,1116.5 C1225.2,1120.6 1225.7,1126.7 1226.7,1132 C1227.7,1137.3 1228.7,1144.5 1229.9,1148.6 C1231.1,1152.6 1232.5,1155.9 1233.8,1156.3 C1235.1,1156.7 1236.5,1155.2 1237.6,1151.2 C1238.7,1147.2 1239.3,1138 1240.2,1132 C1241.1,1126 1241.7,1119.4 1242.8,1115.3 C1243.9,1111.2 1245.3,1109.8 1246.6,1107.6 C1247.9,1105.4 1249.3,1105.4 1250.5,1102.4 C1251.7,1099.4 1252.5,1092.6 1253.7,1089.6 C1254.9,1086.6 1256.1,1084.9 1257.5,1084.5 C1258.9,1084.1 1260.4,1086 1262,1087 C1263.6,1088 1264.9,1089.5 1267.1,1090.2 C1269.2,1091 1272.3,1091.8 1274.9,1091.5 C1277.5,1091.2 1280.5,1088.4 1282.6,1088.3 C1284.7,1088.2 1285.7,1088 1287.7,1090.9 C1289.7,1093.9 1292.5,1100.3 1294.8,1106 C1297,1111.7 1299.4,1117.7 1301.2,1125.1 C1303,1132.5 1304.2,1142.1 1305.4,1150.6 C1306.6,1159.1 1307.5,1166.5 1308.6,1176 C1309.7,1185.5 1310.7,1200.4 1311.8,1207.8 C1312.9,1215.2 1313.4,1219.1 1315,1220.5 C1316.6,1221.9 1319.4,1215.2 1321.3,1216.3 C1323.2,1217.4 1324.6,1222.7 1326.6,1226.9 C1328.5,1231.1 1330.5,1237.8 1333,1241.7 C1335.5,1245.6 1339,1245.2 1341.5,1250.2 C1344,1255.2 1346.2,1262.6 1347.8,1271.4 C1349.4,1280.2 1349.9,1292.6 1351,1303.2 C1352.1,1313.8 1352.6,1326.5 1354.2,1335 C1355.8,1343.5 1358.5,1353.8 1360.6,1354.1 C1362.7,1354.4 1364.8,1343.8 1366.9,1337.1 C1369,1330.4 1371.2,1320.5 1373.3,1313.8 C1375.4,1307.1 1377.1,1302.1 1379.6,1296.8 C1382.1,1291.5 1385.4,1283 1388.1,1282 C1390.8,1281 1393.4,1285.2 1395.5,1290.5 C1397.6,1295.8 1399.2,1304.6 1400.8,1313.8 C1402.4,1323 1403.7,1336.1 1405.1,1345.6 C1406.5,1355.1 1407.5,1362.9 1409.3,1371 C1411.1,1379.1 1413.9,1386.3 1415.7,1394.4 C1417.5,1402.5 1418.5,1412.4 1419.9,1419.8 C1421.3,1427.2 1422.8,1437.8 1424.2,1438.9 C1425.6,1440 1427.2,1432.9 1428.4,1426.2 C1429.6,1419.5 1430.5,1408.5 1431.6,1398.6 C1432.7,1388.7 1433.2,1376 1434.8,1366.8 C1436.4,1357.6 1439,1350.9 1441.1,1343.5 C1443.2,1336.1 1445.4,1329.4 1447.5,1322.3 C1449.6,1315.2 1451.3,1307.1 1453.8,1301.1 C1456.3,1295.1 1459.8,1287.6 1462.3,1286.2 C1464.8,1284.8 1466.6,1288 1468.7,1292.6 C1470.8,1297.2 1472.9,1306.7 1475,1313.8 C1477.1,1320.9 1479.3,1328.3 1481.4,1335 C1483.5,1341.7 1485.7,1348.4 1487.8,1354.1 C1489.9,1359.8 1492,1364.3 1494.1,1368.9 C1496.2,1373.5 1498.4,1380.9 1500.5,1381.6 C1502.6,1382.3 1504.7,1377.4 1506.8,1373.2 C1508.9,1369 1511.3,1360.8 1513.2,1356.2 C1515.1,1351.6 1516.2,1348.9 1518,1345.4 C1519.8,1341.9 1522.1,1337.9 1524.1,1335.4 C1526.1,1332.9 1527.8,1331.6 1530.1,1330.4 C1532.4,1329.2 1535.9,1329.9 1538.1,1328.4 C1540.3,1326.9 1541.8,1324.2 1543.1,1321.4 C1544.4,1318.6 1545,1315.7 1546.2,1311.3 C1547.4,1306.9 1548.9,1298.9 1550.2,1295.2 C1551.5,1291.5 1552.4,1291.5 1554.2,1289.2 C1556,1286.9 1559.5,1284.9 1561.2,1281.2 C1562.9,1277.5 1563.2,1272.1 1564.2,1267.1 C1565.2,1262.1 1566.2,1256.8 1567.2,1251.1 C1568.2,1245.4 1569.1,1238.7 1570.3,1233 C1571.5,1227.3 1572.8,1221.2 1574.3,1216.9 C1575.8,1212.6 1577.6,1209.8 1579.3,1206.9 C1581,1204.1 1582.5,1200.7 1584.3,1199.8 C1586.1,1198.9 1588.6,1202.3 1590.3,1201.8 C1592,1201.3 1593.4,1200.3 1594.4,1196.8 C1595.4,1193.3 1595.2,1184.8 1596.4,1180.8 C1597.6,1176.8 1599.6,1175.4 1601.4,1172.7 C1603.2,1170 1605.6,1165.5 1607.4,1164.7 C1609.2,1163.9 1610.6,1167 1612.4,1167.7 C1614.2,1168.4 1616.8,1171.2 1618.5,1168.7 C1620.2,1166.2 1621.2,1157.9 1622.5,1152.6 C1623.8,1147.2 1624.8,1141.9 1626.5,1136.6 C1628.2,1131.2 1630.5,1125.9 1632.5,1120.5 C1634.5,1115.1 1636.5,1109.4 1638.5,1104.4 C1640.5,1099.4 1642.4,1094.1 1644.6,1090.4 C1646.8,1086.7 1648.6,1083.7 1651.6,1082.3 C1654.6,1080.9 1659.8,1083 1662.6,1082.3 C1665.4,1081.6 1666.7,1080.6 1668.7,1078.3 C1670.7,1076 1672.4,1072 1674.7,1068.3 C1677,1064.6 1679.4,1060.5 1682.7,1056.2 C1686,1051.9 1690.8,1046.9 1694.8,1042.2 C1698.8,1037.5 1703.1,1031.4 1706.8,1028.1 C1710.5,1024.8 1713.4,1023.6 1716.9,1022.1 C1720.4,1020.6 1723.9,1019.4 1727.9,1019.1 C1731.9,1018.8 1737.3,1018.8 1741,1020.1 C1744.7,1021.4 1747.7,1023.7 1750,1027.1 C1752.3,1030.4 1753.5,1034.7 1755,1040.2 C1756.5,1045.7 1757.7,1052.6 1759,1060.3 C1760.3,1068 1761.7,1077.3 1763.1,1086.4 C1764.5,1095.5 1766.3,1110.7 1767.5,1115 C1768.7,1119.3 1769.2,1116.9 1770.1,1112.5 C1771,1108.1 1772.1,1096.4 1773.1,1088.4 C1774.1,1080.4 1774.8,1071.3 1776.1,1064.3 C1777.4,1057.3 1779.6,1047.5 1781.1,1046.2 C1782.6,1044.9 1784,1053.7 1785.2,1056.2 C1786.4,1058.7 1787,1061.9 1788,1061.4 C1789,1061 1790.5,1058 1791.4,1053.5 C1792.3,1049 1792.8,1040.8 1793.6,1034.4 C1794.3,1028 1795.2,1020.5 1795.9,1015.3 C1796.7,1010 1797,1006.3 1798.1,1002.9 C1799.2,999.5 1800.9,996.9 1802.6,995 C1804.3,993.1 1806.2,992.5 1808.3,991.6 C1810.4,990.7 1812.8,989.2 1815,989.4 C1817.2,989.6 1819.7,991.1 1821.8,992.8 C1823.9,994.5 1825.4,997.2 1827.4,999.5 C1829.5,1001.8 1831.7,1005.5 1834.1,1006.3 C1836.5,1007 1839.5,1005.5 1842,1004 C1844.5,1002.5 1846.5,999.9 1848.8,997.3 C1851,994.7 1853.2,990.4 1855.5,988.3 C1857.8,986.2 1859.9,986 1862.3,984.9 C1864.7,983.8 1867.8,983 1870.1,981.5 C1872.3,980 1873.9,975.7 1875.8,975.9 C1877.7,976.1 1879.7,980.2 1881.4,982.6 C1883.1,985 1883.9,987.3 1885.9,990.5 C1887.9,993.7 1891,1001.4 1893.2,1001.8 C1895.5,1002.2 1897.4,995.8 1899.4,992.8 C1901.4,989.8 1902.9,986.4 1905,983.8 C1907.1,981.2 1909.9,978.7 1911.8,977 C1913.7,975.3 1914.6,973.4 1916.3,973.6 C1918,973.8 1920,976.6 1921.9,978.1 C1923.8,979.6 1925.4,982.8 1927.5,982.6 C1929.6,982.4 1932.4,977.8 1934.3,977 C1936.2,976.2 1936.9,977.6 1938.8,978.1 C1940.7,978.6 1943.2,979.4 1945.5,979.8 C1947.8,980.2 1950.4,979.4 1952.3,980.4 C1954.2,981.4 1955.3,985.4 1956.8,986 C1958.3,986.6 1959.6,984.9 1961.3,983.8 C1963,982.7 1965,979.9 1966.9,979.3 C1968.8,978.7 1970.6,979.3 1972.5,980.4 C1974.4,981.5 1976.3,985.1 1978.2,986 C1980.1,986.9 1981.4,985.1 1983.8,986 C1986.2,986.9 1990.2,990 1992.7,991.2 C1995.2,992.4 1997,992.1 1999.1,993.1 C2001.2,994.1 2003.3,995.8 2005.4,997.5 C2007.5,999.2 2010.1,1001.1 2011.8,1003.3 C2013.5,1005.5 2014,1010.1 2015.6,1010.9 C2017.2,1011.7 2019.6,1008.7 2021.3,1008.3 C2023,1007.9 2024.4,1006.2 2025.8,1008.3 C2027.2,1010.4 2028.3,1021.5 2029.6,1021.1 C2030.9,1020.7 2032.1,1008.6 2033.4,1005.8 C2034.7,1003 2036.1,1003.1 2037.3,1004.5 C2038.5,1005.9 2039.6,1014.7 2040.4,1014.1 C2041.2,1013.5 2041.1,1003.4 2042.3,1000.7 C2043.5,998.1 2045.9,998.2 2047.4,998.2 C2048.9,998.2 2049.8,1003 2051.2,1000.7 C2052.6,998.4 2054.3,985.7 2055.7,984.2 C2057.1,982.7 2058.3,988.6 2059.5,991.8 C2060.7,995 2061.6,1001.1 2062.7,1003.3 C2063.8,1005.5 2064.4,1006.2 2065.9,1005.2 C2067.4,1004.2 2069.6,997.1 2071.6,997.5 C2073.6,997.9 2076.3,1008.2 2078,1007.7 C2079.7,1007.2 2080.1,997 2081.8,994.4 C2083.5,991.8 2086.6,991 2088.1,991.8 C2089.6,992.6 2089,1000 2090.7,999.4 C2092.4,998.8 2096.4,988.1 2098.3,988 C2100.2,987.9 2101,996.9 2102.3,998.8 C2103.6,1000.7 2104.7,997.4 2106.3,999.5 C2107.9,1001.6 2110.3,1011.4 2111.7,1011.3 C2113.1,1011.2 2113.5,1001.4 2114.8,998.8 C2116.1,996.2 2117.9,994.8 2119.5,995.6 C2121.1,996.4 2122.5,1003.1 2124.2,1003.4 C2125.9,1003.7 2127.8,998.8 2129.7,997.2 C2131.6,995.7 2133.9,993.1 2135.9,994.1 C2137.9,995.1 2140,1008.1 2141.4,1003.4 C2142.8,998.7 2143.3,967.2 2144.5,965.9 C2145.7,964.6 2147,994.3 2148.4,995.6 C2149.8,996.9 2151.7,977.4 2153.1,973.8 C2154.5,970.2 2155.8,970.5 2157,973.8 C2158.2,977 2159.3,992.9 2160.2,993.3 C2161.1,993.7 2161.3,976.1 2162.5,976.1 C2163.7,976.1 2165.9,990.6 2167.2,993.3 C2168.5,996 2169.1,996.9 2170.3,992.5 C2171.5,988.1 2172.9,968.1 2174.2,966.7 C2175.5,965.3 2176.8,982 2178.1,983.9 C2179.4,985.8 2181.2,984 2182,978.4 C2182.8,972.8 2182.2,958.8 2182.8,950.3 C2183.4,941.8 2184.6,931 2185.5,927.7 C2186.4,924.5 2187.6,927 2188.3,930.8 C2189,934.6 2189.3,947 2189.5,950.3" fill="none" stroke="#0000ff" stroke-width="7" stroke-linejoin="round" stroke-linecap="round"/>
<rect x="2187" y="935" width="5" height="762" fill="#0000ff"/>
</g>
<rect x="143.8" y="338" width="635.9" height="481" fill="none" stroke="#000" stroke-width="2"/>
<path d="M143.8,534.6 C146.3,533.8 154.2,531.5 159,529.9 C163.8,528.3 167.6,526.5 172.3,525.2 C177,523.9 183,522.5 187.4,522.3 C191.8,522.1 194.7,522.8 198.8,524.2 C202.9,525.6 208,528.9 212.1,530.9 C216.2,532.9 220,535.4 223.5,536.5 C227,537.6 229.2,538 233,537.5 C236.8,537 242.2,535.6 246.3,533.7 C250.4,531.8 253.2,529.4 257.6,526.1 C262,522.8 267.7,517.9 272.8,513.8 C277.9,509.7 283.2,505.3 288,501.4 C292.8,497.4 296.9,494.4 301.3,490.1 C305.7,485.8 310.5,480.6 314.6,475.8 C318.7,471.1 322.2,466 326,461.6 C329.8,457.2 333.5,452.3 337.3,449.3 C341.1,446.3 344.3,444.8 348.7,443.6 C353.1,442.4 360.3,442.4 363.9,442.2 C367.4,441.9 367.6,441.8 370,442.1 C372.4,442.4 375.6,443 378.4,443.8 C381.2,444.6 383.9,445.3 386.7,446.7 C389.5,448.1 392.3,450 395.1,452.2 C397.9,454.4 400.7,457 403.5,459.7 C406.3,462.4 409.1,465.4 411.9,468.5 C414.7,471.6 417.4,475 420.2,478.6 C423,482.2 425.8,486.3 428.6,490.3 C431.4,494.3 434.5,498.9 437,502.8 C439.5,506.7 441.6,509.8 443.7,513.7 C445.8,517.6 447.6,522.1 449.5,526.3 C451.4,530.5 453.3,534.6 455.4,538.8 C457.5,543 459.9,547.6 462.1,551.4 C464.3,555.2 466.7,558.9 468.8,561.4 C470.9,563.9 472.8,565.3 474.6,566.4 C476.4,567.5 477.8,568.2 479.7,568.1 C481.6,568 483.8,567.1 486,565.7 C488.2,564.3 490.8,561.9 493.1,559.7 C495.5,557.5 497.8,555.1 500.1,552.6 C502.4,550.1 504.8,547.4 507.1,544.6 C509.4,541.8 511.9,538.6 514.1,535.6 C516.3,532.6 518.2,529.9 520.2,526.5 C522.2,523.1 524.2,519.4 526.2,515.5 C528.2,511.6 530.2,507.6 532.2,503.4 C534.2,499.2 536.2,494.4 538.2,490.4 C540.2,486.4 542.3,483.1 544.3,479.3 C546.3,475.5 548.3,471.2 550.3,467.3 C552.3,463.4 554.3,459.7 556.3,456.2 C558.3,452.7 560.3,449.4 562.3,446.2 C564.3,443 566.4,440 568.4,437.2 C570.4,434.4 572.4,431.6 574.4,429.1 C576.4,426.6 578.4,424 580.4,422.1 C582.4,420.2 584.4,418.8 586.4,417.6 C588.4,416.4 590.2,415.9 592.5,415.1 C594.8,414.4 597.2,413.7 600,413.1 C602.8,412.5 605.3,412.2 609.4,411.3 C613.5,410.4 619.5,408.6 624.5,407.5 C629.5,406.4 634,405.4 639.7,405 C645.4,404.6 653.6,404.4 658.7,405 C663.8,405.6 666.6,406.7 670.1,408.5 C673.6,410.3 676.5,412.9 679.6,416 C682.8,419.1 685.9,423.6 689,427.4 C692.1,431.2 695,436.1 698.5,438.8 C702,441.5 706.1,442.4 709.9,443.6 C713.7,444.8 717.5,444.8 721.3,446 C725.1,447.2 728.6,449 732.7,451.1 C736.8,453.2 741.6,456.3 746,458.7 C750.4,461.1 755.1,463.6 759.2,465.4 C763.3,467.1 767.2,468.3 770.6,469.2 C774,470.1 778.2,470.4 779.7,470.7" fill="none" stroke="#fc0000" stroke-width="5" stroke-linejoin="round"/>
<path d="M143.8,706.4 C145.7,705.1 151.1,701.6 155.2,698.8 C159.3,695.9 164.1,692.6 168.5,689.3 C172.9,686 177.3,681.8 181.7,678.9 C186.1,676 190.6,674.1 195,672.2 C199.4,670.3 204.2,669.4 208.3,667.5 C212.4,665.6 215.9,663.5 219.7,660.8 C223.5,658.1 227.3,654.6 231.1,651.3 C234.9,648 238.7,643.9 242.5,640.9 C246.3,637.9 249.5,635.8 253.9,633.3 C258.3,630.8 263.9,627.9 269,625.7 C274.1,623.5 279.1,622 284.2,620 C289.3,618 294.3,616.1 299.4,613.4 C304.5,610.7 309.5,607.1 314.6,603.9 C319.7,600.7 324.8,597.1 329.8,594.4 C334.9,591.7 339.8,589.6 344.9,587.8 C349.9,586 354.4,584.4 360.1,583.4 C365.8,582.4 373.4,581.6 379.1,581.5 C384.8,581.4 389.2,581.8 394.3,582.7 C399.4,583.6 404.3,585 409.4,586.8 C414.4,588.6 419.5,591 424.6,593.5 C429.7,596 435.1,599.3 439.8,602 C444.6,604.7 448.9,607.9 453.1,609.6 C457.3,611.3 460.6,612.1 465.2,612.4 C469.8,612.7 475,611.7 480.4,611.5 C485.8,611.3 490.4,610.8 497.4,611.1 C504.3,611.4 515.8,613.3 522.1,613.4 C528.4,613.5 529.7,612.9 535.4,611.5 C541.1,610.1 548.9,607.2 556.2,604.8 C563.5,602.4 571.4,599.7 579,597.2 C586.6,594.7 594.2,591.3 601.8,589.6 C609.4,587.9 618.5,586.9 624.5,586.8 C630.5,586.6 633.4,587.1 637.8,588.7 C642.2,590.3 647,593.8 651.1,596.3 C655.2,598.8 659,602.1 662.5,603.5 C666,604.9 668.8,605.2 672,604.8 C675.2,604.4 678,603.2 681.5,601 C685,598.8 689,594.1 692.8,591.5 C696.6,588.9 699.8,586.8 704.2,585.3 C708.6,583.8 714.3,582.9 719.4,582.6 C724.5,582.3 728.9,583 734.6,583.4 C740.3,583.8 746.1,585.3 753.6,585.3 C761.1,585.3 775.4,583.7 779.7,583.4" fill="none" stroke="#0000ff" stroke-width="5" stroke-linejoin="round"/>
<text x="439.1" y="736" font-size="40">C</text>
<text transform="translate(466.2,736) scale(1.243,1)" font-size="40">=</text>
<text x="495.3" y="736" font-size="40">C</text>
<line x1="895" y1="330" x2="895" y2="1634.5" stroke="#000" stroke-width="5.5" stroke-dasharray="12 9"/>
<line x1="983.2" y1="228.3" x2="983.2" y2="1418" stroke="#000" stroke-width="5.5" stroke-dasharray="12 9"/>
<line x1="1206" y1="280" x2="1206" y2="1275.4" stroke="#000" stroke-width="5.5" stroke-dasharray="12 9"/>
<line x1="1497" y1="403" x2="1497" y2="1477.7" stroke="#000" stroke-width="5.5" stroke-dasharray="12 9"/>
<line x1="1769" y1="277" x2="1769" y2="1296.2" stroke="#000" stroke-width="5.5" stroke-dasharray="12 9"/>
<line x1="1792.5" y1="238.4" x2="1792.5" y2="1216.1" stroke="#000" stroke-width="5.5" stroke-dasharray="12 9"/>
<line x1="480.8" y1="397.1" x2="480.8" y2="700" stroke="#000" stroke-width="5.5" stroke-dasharray="11 9"/>
<ellipse cx="976.3" cy="295.3" rx="53" ry="55" fill="none" stroke="#04ff0c" stroke-width="4.6"/>
<ellipse cx="976.3" cy="1031.5" rx="53" ry="55" fill="none" stroke="#04ff0c" stroke-width="4.6"/>
<line x1="774" y1="1599" x2="839" y2="1599" stroke="#000" stroke-width="1.7"/><polygon points="872,1599 837,1608 837,1590" fill="#000"/>
<line x1="986" y1="1548" x2="986.4" y2="1455" stroke="#000" stroke-width="1.7"/><polygon points="986.5,1422 995.4,1457 977.4,1457" fill="#000"/>
<line x1="1197.5" y1="1393.7" x2="1198.9" y2="1323.7" stroke="#000" stroke-width="1.7"/><polygon points="1199.6,1290.7 1207.9,1325.9 1189.9,1325.5" fill="#000"/>
<line x1="1419.6" y1="1539.5" x2="1465" y2="1470.8" stroke="#000" stroke-width="1.7"/><polygon points="1483.2,1443.3 1471.4,1477.5 1456.4,1467.5" fill="#000"/>
<line x1="1642.3" y1="1485.3" x2="1551.5" y2="1464.6" stroke="#000" stroke-width="1.7"/><polygon points="1519.3,1457.3 1555.4,1456.3 1551.4,1473.8" fill="#000"/>
<line x1="1765.7" y1="1456.5" x2="1765.7" y2="1343.8" stroke="#000" stroke-width="1.7"/><polygon points="1765.7,1310.8 1774.7,1345.8 1756.7,1345.8" fill="#000"/>
<line x1="1908.7" y1="1295" x2="1823" y2="1233.4" stroke="#000" stroke-width="1.7"/><polygon points="1796.2,1214.1 1829.9,1227.2 1819.4,1241.8" fill="#000"/>
<line x1="908.7" y1="288.8" x2="717.3" y2="403.1" stroke="#000" stroke-width="1.7"/><polygon points="689,420 714.4,394.3 723.7,409.8" fill="#000"/>
<line x1="934.3" y1="979.5" x2="709.4" y2="630" stroke="#000" stroke-width="1.7"/><polygon points="691.5,602.2 718,626.8 702.9,636.5" fill="#000"/>
<text x="625" y="1619.8" font-size="74" textLength="143.6" lengthAdjust="spacing">C=O</text>
<text x="960.8" y="1608.4" font-size="74" textLength="139.4" lengthAdjust="spacing">C=C</text>
<text x="1097.9" y="1460.5" font-size="74" textLength="147.3" lengthAdjust="spacing">=CH</text>
<text x="1242" y="1480" font-size="51">2</text>
<text x="1327.9" y="1603.9" font-size="74" textLength="256" lengthAdjust="spacing">Si–O–Si</text>
<text x="1668.1" y="1533.1" font-size="74" textLength="233.5" lengthAdjust="spacing">C–O–C</text>
<text x="1857.4" y="1367.8" font-size="74" textLength="186.8" lengthAdjust="spacing">=C–H</text>
</svg></body></html>
